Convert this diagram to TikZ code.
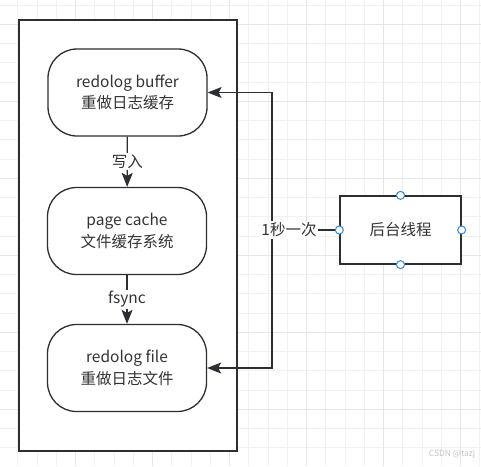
\documentclass[tikz,border=0pt]{standalone}
\usepackage{fontspec,xcolor,tikz}
\setmainfont{Noto Sans CJK SC}
\usetikzlibrary{arrows.meta,positioning}
\definecolor{ink}{HTML}{2B2E32}
\definecolor{body}{HTML}{333333}
\definecolor{gridminor}{HTML}{F1F1F1}
\definecolor{gridmajor}{HTML}{E6E6E6}
\definecolor{port}{HTML}{2A8AE6}
\definecolor{soft}{HTML}{C4C4C4}
\newcommand{\lbl}{\fontsize{15.5}{21.6}\selectfont}
\newcommand{\micro}{\fontsize{8.5}{10}\selectfont}

\begin{document}
\begin{tikzpicture}[x=1pt,y=-1pt,
  stage/.style={draw=ink,line width=1.3pt,fill=white,rounded corners=29pt,
    minimum width=159pt,minimum height=87pt,align=center,text=body,font=\lbl},
  flow/.style={draw=ink,line width=1.3pt,-{Stealth[length=14pt,width=11pt,inset=3pt]}},
  tag/.style={fill=white,inner sep=1.5pt,text=body,font=\lbl},
  port/.style={circle,draw=port,fill=white,line width=1pt,minimum size=8pt,inner sep=0}]
\useasboundingbox (0,0) rectangle (481,466);
% background grid
\foreach \k in {-1,...,24}
  \draw[gridminor,line width=1pt] ({17.95+19.25*\k},0) -- ++(0,466);
\foreach \k in {0,...,24}
  \draw[gridminor,line width=1pt] (0,{5.05+19.25*\k}) -- ++(481,0);
\foreach \k in {-1,3,7,11,15,19,23}
  \draw[gridmajor,line width=1pt] ({17.95+19.25*\k},0) -- ++(0,466);
\foreach \k in {1,5,9,13,17,21}
  \draw[gridmajor,line width=1pt] (0,{5.05+19.25*\k}) -- ++(481,0);
% container
\node[draw=ink,line width=1.3pt,fill=white,minimum width=218pt,minimum height=431pt,inner sep=0] (frame) at (128,235.5) {};
% log path
\node[stage] (buf) at (127.5,92.5) {redolog buffer\\重做日志缓存};
\node[stage] (cache) at (127,231) {page cache\\文件缓存系统};
\node[stage] (file) at (127,368) {redolog file\\重做日志文件};
\draw[flow] (buf) -- node[tag] (write) {写入} (cache);
\draw[flow] (cache) -- node[tag] (sync) {fsync} (file);
% background thread
\node[draw=ink,line width=1.3pt,fill=white,minimum width=121pt,minimum height=68pt,text=body,font=\lbl] (worker) at (400.5,230) {后台线程};
\coordinate (split) at (272,230);
\draw[flow] (worker.west) -- (split) |- (buf.east);
\draw[flow] (split) |- (file.east);
\node[tag] (rate) at (289,230) {1秒一次};
\foreach \s in {north,south,east,west}
  \node[port] (p-\s) at (worker.\s) {};
\node[inner sep=0,text=soft,font=\micro] (mark) at (452,454) {CSDN @tazj};
\end{tikzpicture}
\end{document}
